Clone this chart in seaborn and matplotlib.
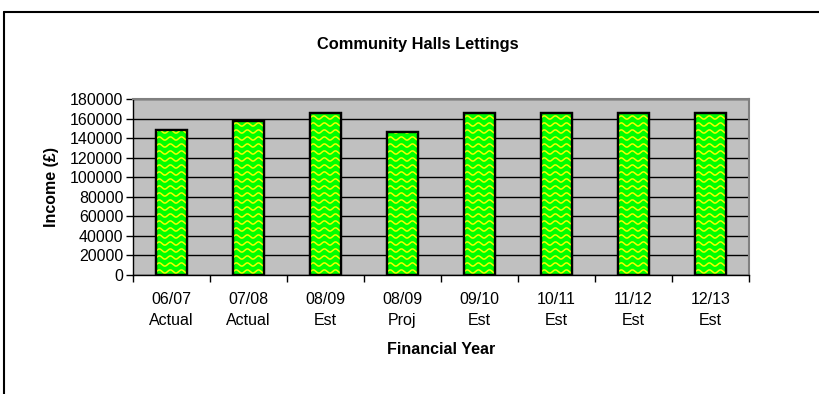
import numpy as np
import pandas as pd
import matplotlib
matplotlib.use("Agg")
import matplotlib.pyplot as plt
import seaborn as sns
from matplotlib.lines import Line2D
from matplotlib.patches import Rectangle

years = ["06/07\nActual", "07/08\nActual", "08/09\nEst", "08/09\nProj",
         "09/10\nEst", "10/11\nEst", "11/12\nEst", "12/13\nEst"]
income = [148000, 158000, 165500, 146500, 165500, 165500, 165500, 165500]
yticks = [0, 20000, 40000, 60000, 80000, 100000, 120000, 140000, 160000, 180000]

df = pd.DataFrame({"year": years, "income": income})

sns.set_theme(style="white")
plt.rcParams["font.family"] = ["Liberation Sans", "DejaVu Sans"]

fig = plt.figure(figsize=(8.2, 3.94), dpi=100)
ax = fig.add_axes([133/820, 1-275/394, (749-133)/820, (275-99)/394])
ax.set_facecolor("#C0C0C0")

sns.barplot(data=df, x="year", y="income", ax=ax, color="#00FF00",
            width=0.39, edgecolor="black", linewidth=1.6, saturation=1, zorder=3)

ax.set_ylim(0, 180000)
ax.set_xlim(-0.5, len(years) - 0.5)
ax.set_yticks(yticks)
ax.set_yticklabels([str(v) for v in yticks], fontsize=11.5, color="black")
ax.yaxis.grid(True, color="black", linewidth=1.0, zorder=1)
ax.set_axisbelow(True)

# x ticks: marks at category boundaries, labels at centres
ax.set_xticks(np.arange(-0.5, len(years), 1.0))
ax.set_xticklabels([])
ax.set_xticks(np.arange(len(years)), minor=True)
ax.set_xticklabels(years, minor=True, fontsize=11.5, linespacing=1.5, color="black")
ax.tick_params(axis="x", which="major", length=5, width=1, color="black", direction="out", bottom=True)
ax.tick_params(axis="x", which="minor", length=0, pad=12)
ax.tick_params(axis="y", length=5, width=1, color="black", direction="out", left=True, pad=2)

for s in ["top", "right"]:
    ax.spines[s].set_color("#808080")
    ax.spines[s].set_linewidth(1.5)
for s in ["left", "bottom"]:
    ax.spines[s].set_color("black")
    ax.spines[s].set_linewidth(1.0)

ax.set_xlabel("Financial Year", fontsize=11.5, fontweight="bold", labelpad=10, color="black")
ax.set_ylabel("Income (£)", fontsize=11.5, fontweight="bold", labelpad=8, color="black")
fig.text(418/820, 1-45/394, "Community Halls Lettings", ha="center", va="center",
         fontsize=11.8, fontweight="bold", color="black")

# wavy yellow texture clipped to each bar, then outline redrawn on top
for p in list(ax.patches):
    x0, w, h = p.get_x(), p.get_width(), p.get_height()
    xs = np.linspace(x0 - w, x0 + 2 * w, 240)
    step = 180000 / 176 * 7.0
    amp = 180000 / 176 * 1.6
    period = w / 2.7
    for yb in np.arange(step / 2, h + step, step):
        ln = Line2D(xs, yb + amp * np.sin(2 * np.pi * (xs - x0) / period),
                    color="#F0FF00", linewidth=1.1, zorder=4)
        ax.add_line(ln)
        ln.set_clip_path(p)
    ax.add_patch(Rectangle(p.get_xy(), w, h, facecolor="none", edgecolor="black",
                           linewidth=1.6, zorder=5))

# outer chart border (top and left visible)
fig.add_artist(Line2D([4.5/820, 4.5/820], [0, 1-12/394], transform=fig.transFigure,
                      color="black", linewidth=1.5))
fig.add_artist(Line2D([4.5/820, 1], [1-12/394, 1-12/394], transform=fig.transFigure,
                      color="black", linewidth=1.5))

fig.savefig("out.png", dpi=100)
